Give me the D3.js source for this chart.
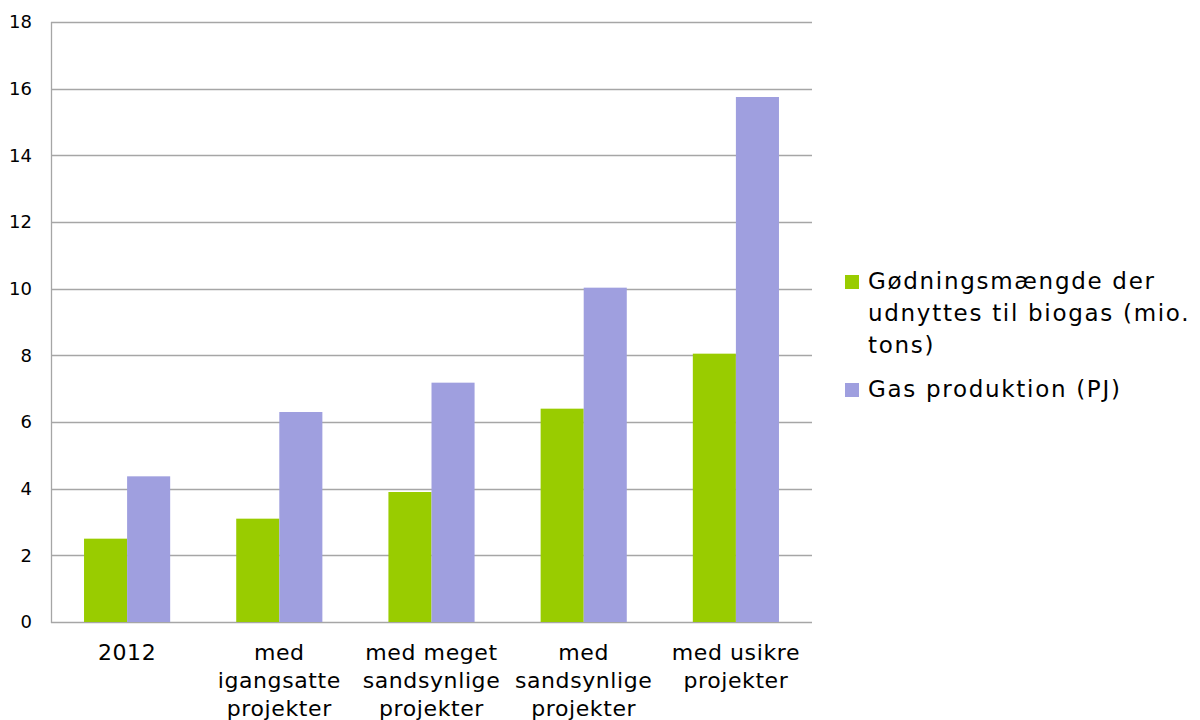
<!DOCTYPE html>
<html>
<head>
<meta charset="utf-8">
<script src="https://cdn.jsdelivr.net/npm/d3@7"></script>
<style>
  body { margin: 0; background: #fff; }
  text { font-family: "DejaVu Sans", Verdana, sans-serif; fill: #000; }
</style>
</head>
<body>
<script>
const categories = [
  ["2012"],
  ["med", "igangsatte", "projekter"],
  ["med meget", "sandsynlige", "projekter"],
  ["med", "sandsynlige", "projekter"],
  ["med usikre", "projekter"]
]
const godning = [2.5, 3.1, 3.9, 6.4, 8.05]
const gas = [4.37, 6.3, 7.18, 10.03, 15.75]
const yTicks = [0, 2, 4, 6, 8, 10, 12, 14, 16, 18]
const seriesNames = [
  ["Gødningsmængde der", "udnyttes til biogas (mio.", "tons)"],
  ["Gas produktion (PJ)"]
]
const colors = ["#99cc00", "#9f9fdf"]

const width = 1200, height = 720
const plot = { left: 51, right: 812, top: 22, bottom: 622 }

const svg = d3.select('body').append('svg')
  .attr('width', width)
  .attr('height', height)

const x = d3.scaleBand()
  .domain(d3.range(categories.length))
  .range([plot.left, plot.right])
  .paddingInner(0.434)
  .paddingOuter(0.217)

const x1 = d3.scaleBand()
  .domain([0, 1])
  .range([0, x.bandwidth()])

const y = d3.scaleLinear()
  .domain([0, 18])
  .range([plot.bottom, plot.top])

// grid
svg.append('g')
  .selectAll('line')
  .data(yTicks).enter()
  .append('line')
  .attr('x1', plot.left)
  .attr('x2', plot.right)
  .attr('y1', d => Math.round(y(d)) + 0.5)
  .attr('y2', d => Math.round(y(d)) + 0.5)
  .attr('stroke', '#a6a6a6')
  .attr('stroke-width', 1.3)

// y axis line
svg.append('line')
  .attr('x1', plot.left + 0.5).attr('x2', plot.left + 0.5)
  .attr('y1', plot.top).attr('y2', plot.bottom + 1)
  .attr('stroke', '#a6a6a6')
  .attr('stroke-width', 1.3)

svg.append('g')
  .selectAll('text')
  .data(yTicks).enter()
  .append('text')
  .attr('x', plot.left - 19)
  .attr('y', d => y(d))
  .attr('dy', '0.36em')
  .attr('text-anchor', 'end')
  .style('font-size', '18px')
  .text(d => d)

// bars
const series = [godning, gas]
series.forEach((vals, s) => {
  svg.append('g')
    .selectAll('rect')
    .data(vals).enter()
    .append('rect')
    .attr('x', (d, i) => x(i) + x1(s))
    .attr('width', x1.bandwidth())
    .attr('y', d => y(d))
    .attr('height', d => y(0) - y(d))
    .attr('fill', colors[s])
})

// category labels
const cat = svg.append('g')
  .selectAll('text')
  .data(categories).enter()
  .append('text')
  .attr('text-anchor', 'middle')
  .style('font-size', '22px')
  .style('letter-spacing', '0.6px')
cat.selectAll('tspan')
  .data((d, i) => d.map(line => ({ line, i })))
  .enter()
  .append('tspan')
  .attr('x', d => x(d.i) + x.bandwidth() / 2)
  .attr('y', (d, j) => 660 + j * 28)
  .text(d => d.line)

// legend
const legendTop = [275, 383]
seriesNames.forEach((lines, s) => {
  const g = svg.append('g')
  g.append('rect')
    .attr('x', 845).attr('y', legendTop[s])
    .attr('width', 14).attr('height', 14)
    .attr('fill', colors[s])
  g.append('text')
    .style('font-size', '23px')
    .style('letter-spacing', '1.7px')
    .selectAll('tspan')
    .data(lines).enter()
    .append('tspan')
    .attr('x', 868)
    .attr('y', (d, j) => legendTop[s] + 14 + j * 32)
    .text(d => d)
})
</script>
</body>
</html>
